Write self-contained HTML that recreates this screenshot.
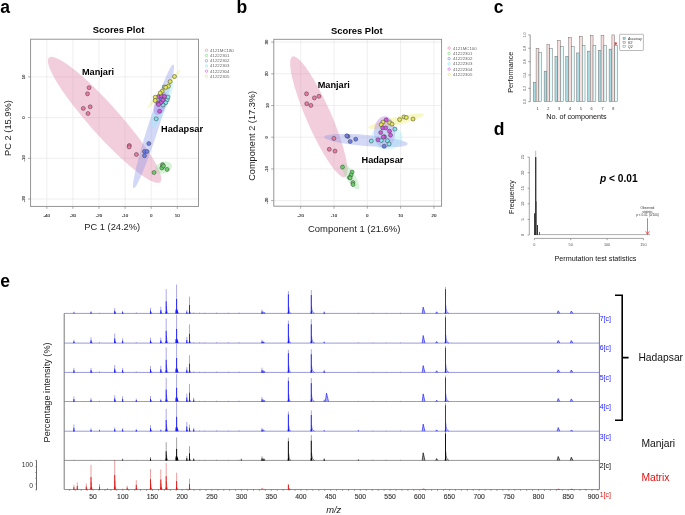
<!DOCTYPE html>
<html><head><meta charset="utf-8"><style>
html,body{margin:0;padding:0;background:#fff;}
body{width:685px;height:515px;overflow:hidden;}
svg{display:block;font-family:"Liberation Sans", sans-serif;-webkit-font-smoothing:antialiased;will-change:transform;transform:translateZ(0);}
</style></head><body>
<svg width="685" height="515" viewBox="0 0 685 515">
<rect width="685" height="515" fill="#fff"/>
<text x="0.3" y="13.2" font-family="Liberation Sans, sans-serif" font-size="17.5" text-anchor="start" font-weight="bold" fill="#000">a</text>
<text x="236.6" y="12.8" font-family="Liberation Sans, sans-serif" font-size="17.5" text-anchor="start" font-weight="bold" fill="#000">b</text>
<text x="493.8" y="12.8" font-family="Liberation Sans, sans-serif" font-size="17.5" text-anchor="start" font-weight="bold" fill="#000">c</text>
<text x="493.8" y="134.6" font-family="Liberation Sans, sans-serif" font-size="17.5" text-anchor="start" font-weight="bold" fill="#000">d</text>
<text x="0.3" y="286.8" font-family="Liberation Sans, sans-serif" font-size="17.5" text-anchor="start" font-weight="bold" fill="#000">e</text>
<g>
<line x1="46.8" y1="39.2" x2="46.8" y2="206.4" stroke="#e8e8e8" stroke-width="0.7"/>
<line x1="72.89999999999999" y1="39.2" x2="72.89999999999999" y2="206.4" stroke="#e8e8e8" stroke-width="0.7"/>
<line x1="99.0" y1="39.2" x2="99.0" y2="206.4" stroke="#e8e8e8" stroke-width="0.7"/>
<line x1="125.1" y1="39.2" x2="125.1" y2="206.4" stroke="#e8e8e8" stroke-width="0.7"/>
<line x1="151.2" y1="39.2" x2="151.2" y2="206.4" stroke="#e8e8e8" stroke-width="0.7"/>
<line x1="177.29999999999998" y1="39.2" x2="177.29999999999998" y2="206.4" stroke="#e8e8e8" stroke-width="0.7"/>
<line x1="30.6" y1="76.89999999999999" x2="198.5" y2="76.89999999999999" stroke="#e8e8e8" stroke-width="0.7"/>
<line x1="30.6" y1="117.6" x2="198.5" y2="117.6" stroke="#e8e8e8" stroke-width="0.7"/>
<line x1="30.6" y1="158.3" x2="198.5" y2="158.3" stroke="#e8e8e8" stroke-width="0.7"/>
<line x1="30.6" y1="199.0" x2="198.5" y2="199.0" stroke="#e8e8e8" stroke-width="0.7"/>
</g>
<ellipse cx="104.6" cy="119.9" rx="83.5" ry="15" transform="rotate(48.2 104.6 119.9)" fill="#dc7fa6" fill-opacity="0.38"/>
<ellipse cx="153.5" cy="126.4" rx="65" ry="5.4" transform="rotate(-72.2 153.5 126.4)" fill="#8090e8" fill-opacity="0.35"/>
<ellipse cx="163.6" cy="167.6" rx="8.8" ry="5.8" transform="rotate(-18 163.6 167.6)" fill="#90e090" fill-opacity="0.35"/>
<ellipse cx="162" cy="104" rx="26" ry="5.5" transform="rotate(-67.4 162 104)" fill="#9ae8f4" fill-opacity="0.4"/>
<ellipse cx="160.5" cy="103.5" rx="12" ry="6" transform="rotate(-70 160.5 103.5)" fill="#b878e8" fill-opacity="0.4"/>
<ellipse cx="164" cy="89" rx="25.6" ry="1.8" transform="rotate(-49.2 164 89)" fill="#eef07a" fill-opacity="0.5"/>
<circle cx="89.1" cy="87.7" r="2.0" fill="#ee78a2" stroke="#3a3a3a" stroke-width="0.5"/>
<circle cx="87.5" cy="93.8" r="2.0" fill="#ee78a2" stroke="#3a3a3a" stroke-width="0.5"/>
<circle cx="90.2" cy="106.8" r="2.0" fill="#ee78a2" stroke="#3a3a3a" stroke-width="0.5"/>
<circle cx="83.3" cy="108.4" r="2.0" fill="#ee78a2" stroke="#3a3a3a" stroke-width="0.5"/>
<circle cx="88" cy="113.5" r="2.0" fill="#ee78a2" stroke="#3a3a3a" stroke-width="0.5"/>
<circle cx="129.3" cy="145.5" r="2.0" fill="#ee78a2" stroke="#3a3a3a" stroke-width="0.5"/>
<circle cx="129.1" cy="146.9" r="2.0" fill="#ee78a2" stroke="#3a3a3a" stroke-width="0.5"/>
<circle cx="136.4" cy="154.5" r="2.0" fill="#ee78a2" stroke="#3a3a3a" stroke-width="0.5"/>
<circle cx="162.5" cy="164.6" r="2.0" fill="#68d268" stroke="#3a3a3a" stroke-width="0.5"/>
<circle cx="162.3" cy="167" r="2.0" fill="#68d268" stroke="#3a3a3a" stroke-width="0.5"/>
<circle cx="161.8" cy="168" r="2.0" fill="#68d268" stroke="#3a3a3a" stroke-width="0.5"/>
<circle cx="167.1" cy="169.4" r="2.0" fill="#68d268" stroke="#3a3a3a" stroke-width="0.5"/>
<circle cx="154" cy="172.5" r="2.0" fill="#68d268" stroke="#3a3a3a" stroke-width="0.5"/>
<circle cx="163.5" cy="166" r="2.0" fill="#68d268" stroke="#3a3a3a" stroke-width="0.5"/>
<circle cx="148.8" cy="143.6" r="2.0" fill="#7080e8" stroke="#3a3a3a" stroke-width="0.5"/>
<circle cx="144.5" cy="151.5" r="2.0" fill="#7080e8" stroke="#3a3a3a" stroke-width="0.5"/>
<circle cx="147" cy="151.5" r="2.0" fill="#7080e8" stroke="#3a3a3a" stroke-width="0.5"/>
<circle cx="144.5" cy="155.7" r="2.0" fill="#7080e8" stroke="#3a3a3a" stroke-width="0.5"/>
<circle cx="161" cy="99" r="2.0" fill="#7080e8" stroke="#3a3a3a" stroke-width="0.5"/>
<circle cx="164.3" cy="87" r="2.0" fill="#80e4ee" stroke="#3a3a3a" stroke-width="0.5"/>
<circle cx="167.2" cy="99.8" r="2.0" fill="#80e4ee" stroke="#3a3a3a" stroke-width="0.5"/>
<circle cx="165.7" cy="102.7" r="2.0" fill="#80e4ee" stroke="#3a3a3a" stroke-width="0.5"/>
<circle cx="156.2" cy="118.8" r="2.0" fill="#80e4ee" stroke="#3a3a3a" stroke-width="0.5"/>
<circle cx="168" cy="97" r="2.0" fill="#80e4ee" stroke="#3a3a3a" stroke-width="0.5"/>
<circle cx="163" cy="105" r="2.0" fill="#80e4ee" stroke="#3a3a3a" stroke-width="0.5"/>
<circle cx="158.5" cy="96.5" r="2.0" fill="#d458e6" stroke="#3a3a3a" stroke-width="0.5"/>
<circle cx="161.5" cy="96" r="2.0" fill="#d458e6" stroke="#3a3a3a" stroke-width="0.5"/>
<circle cx="164.5" cy="96.5" r="2.0" fill="#d458e6" stroke="#3a3a3a" stroke-width="0.5"/>
<circle cx="158" cy="103" r="2.0" fill="#d458e6" stroke="#3a3a3a" stroke-width="0.5"/>
<circle cx="161" cy="102.5" r="2.0" fill="#d458e6" stroke="#3a3a3a" stroke-width="0.5"/>
<circle cx="158.5" cy="104.5" r="2.0" fill="#d458e6" stroke="#3a3a3a" stroke-width="0.5"/>
<circle cx="159.6" cy="111.3" r="2.0" fill="#d458e6" stroke="#3a3a3a" stroke-width="0.5"/>
<circle cx="163" cy="100" r="2.0" fill="#d458e6" stroke="#3a3a3a" stroke-width="0.5"/>
<circle cx="174.5" cy="76.5" r="2.0" fill="#e6e658" stroke="#3a3a3a" stroke-width="0.5"/>
<circle cx="170.1" cy="81.6" r="2.0" fill="#e6e658" stroke="#3a3a3a" stroke-width="0.5"/>
<circle cx="168.4" cy="86.2" r="2.0" fill="#e6e658" stroke="#3a3a3a" stroke-width="0.5"/>
<circle cx="165.7" cy="87.4" r="2.0" fill="#e6e658" stroke="#3a3a3a" stroke-width="0.5"/>
<circle cx="162.1" cy="91.3" r="2.0" fill="#e6e658" stroke="#3a3a3a" stroke-width="0.5"/>
<circle cx="160.2" cy="93" r="2.0" fill="#e6e658" stroke="#3a3a3a" stroke-width="0.5"/>
<circle cx="155.2" cy="97.2" r="2.0" fill="#e6e658" stroke="#3a3a3a" stroke-width="0.5"/>
<circle cx="155.2" cy="100.5" r="2.0" fill="#e6e658" stroke="#3a3a3a" stroke-width="0.5"/>
<rect x="30.6" y="39.2" width="167.9" height="167.2" fill="none" stroke="#8a8a8a" stroke-width="0.9"/>
<line x1="46.8" y1="206.4" x2="46.8" y2="208.9" stroke="#8a8a8a" stroke-width="0.7"/>
<text x="46.8" y="216.9" font-family="Liberation Sans, sans-serif" font-size="4.4" text-anchor="middle" fill="#444" stroke="#444" stroke-width="0.18">-40</text>
<line x1="72.89999999999999" y1="206.4" x2="72.89999999999999" y2="208.9" stroke="#8a8a8a" stroke-width="0.7"/>
<text x="72.89999999999999" y="216.9" font-family="Liberation Sans, sans-serif" font-size="4.4" text-anchor="middle" fill="#444" stroke="#444" stroke-width="0.18">-30</text>
<line x1="99.0" y1="206.4" x2="99.0" y2="208.9" stroke="#8a8a8a" stroke-width="0.7"/>
<text x="99.0" y="216.9" font-family="Liberation Sans, sans-serif" font-size="4.4" text-anchor="middle" fill="#444" stroke="#444" stroke-width="0.18">-20</text>
<line x1="125.1" y1="206.4" x2="125.1" y2="208.9" stroke="#8a8a8a" stroke-width="0.7"/>
<text x="125.1" y="216.9" font-family="Liberation Sans, sans-serif" font-size="4.4" text-anchor="middle" fill="#444" stroke="#444" stroke-width="0.18">-10</text>
<line x1="151.2" y1="206.4" x2="151.2" y2="208.9" stroke="#8a8a8a" stroke-width="0.7"/>
<text x="151.2" y="216.9" font-family="Liberation Sans, sans-serif" font-size="4.4" text-anchor="middle" fill="#444" stroke="#444" stroke-width="0.18">0</text>
<line x1="177.29999999999998" y1="206.4" x2="177.29999999999998" y2="208.9" stroke="#8a8a8a" stroke-width="0.7"/>
<text x="177.29999999999998" y="216.9" font-family="Liberation Sans, sans-serif" font-size="4.4" text-anchor="middle" fill="#444" stroke="#444" stroke-width="0.18">10</text>
<line x1="27.900000000000002" y1="76.89999999999999" x2="30.6" y2="76.89999999999999" stroke="#8a8a8a" stroke-width="0.7"/>
<text x="25.0" y="76.89999999999999" font-family="Liberation Sans, sans-serif" font-size="4.4" text-anchor="middle" fill="#444" transform="rotate(-90 25.0 76.89999999999999)" stroke="#444" stroke-width="0.18">10</text>
<line x1="27.900000000000002" y1="117.6" x2="30.6" y2="117.6" stroke="#8a8a8a" stroke-width="0.7"/>
<text x="25.0" y="117.6" font-family="Liberation Sans, sans-serif" font-size="4.4" text-anchor="middle" fill="#444" transform="rotate(-90 25.0 117.6)" stroke="#444" stroke-width="0.18">0</text>
<line x1="27.900000000000002" y1="158.3" x2="30.6" y2="158.3" stroke="#8a8a8a" stroke-width="0.7"/>
<text x="25.0" y="158.3" font-family="Liberation Sans, sans-serif" font-size="4.4" text-anchor="middle" fill="#444" transform="rotate(-90 25.0 158.3)" stroke="#444" stroke-width="0.18">-10</text>
<line x1="27.900000000000002" y1="199.0" x2="30.6" y2="199.0" stroke="#8a8a8a" stroke-width="0.7"/>
<text x="25.0" y="199.0" font-family="Liberation Sans, sans-serif" font-size="4.4" text-anchor="middle" fill="#444" transform="rotate(-90 25.0 199.0)" stroke="#444" stroke-width="0.18">-20</text>
<text x="118.5" y="33.1" font-family="Liberation Sans, sans-serif" font-size="9.4" text-anchor="middle" font-weight="bold" fill="#000">Scores Plot</text>
<text x="84.3" y="229.8" font-family="Liberation Sans, sans-serif" font-size="9.3" text-anchor="start" fill="#222">PC 1 (24.2%)</text>
<text x="10.6" y="128" font-family="Liberation Sans, sans-serif" font-size="9.3" text-anchor="middle" fill="#222" transform="rotate(-90 10.6 128)">PC 2 (15.9%)</text>
<text x="81.9" y="74.8" font-family="Liberation Sans, sans-serif" font-size="9.2" text-anchor="start" font-weight="bold" fill="#000">Manjari</text>
<text x="161.1" y="132.1" font-family="Liberation Sans, sans-serif" font-size="9.2" text-anchor="start" font-weight="bold" fill="#000">Hadapsar</text>
<circle cx="206.5" cy="50.3" r="1.2" fill="none" stroke="#ee78a2" stroke-width="0.6"/>
<text x="210.1" y="51.8" font-family="Liberation Sans, sans-serif" font-size="4.35" text-anchor="start" fill="#666">4121MC180</text>
<circle cx="206.5" cy="55.519999999999996" r="1.2" fill="none" stroke="#68d268" stroke-width="0.6"/>
<text x="210.1" y="57.019999999999996" font-family="Liberation Sans, sans-serif" font-size="4.35" text-anchor="start" fill="#666">41222301</text>
<circle cx="206.5" cy="60.739999999999995" r="1.2" fill="none" stroke="#7080e8" stroke-width="0.6"/>
<text x="210.1" y="62.239999999999995" font-family="Liberation Sans, sans-serif" font-size="4.35" text-anchor="start" fill="#666">41222302</text>
<circle cx="206.5" cy="65.96" r="1.2" fill="none" stroke="#80e4ee" stroke-width="0.6"/>
<text x="210.1" y="67.46" font-family="Liberation Sans, sans-serif" font-size="4.35" text-anchor="start" fill="#666">41222303</text>
<circle cx="206.5" cy="71.17999999999999" r="1.2" fill="none" stroke="#d458e6" stroke-width="0.6"/>
<text x="210.1" y="72.67999999999999" font-family="Liberation Sans, sans-serif" font-size="4.35" text-anchor="start" fill="#666">41222304</text>
<circle cx="206.5" cy="76.39999999999999" r="1.2" fill="none" stroke="#e6e658" stroke-width="0.6"/>
<text x="210.1" y="77.89999999999999" font-family="Liberation Sans, sans-serif" font-size="4.35" text-anchor="start" fill="#666">41222305</text>
<line x1="300.70000000000005" y1="39.3" x2="300.70000000000005" y2="206.2" stroke="#e8e8e8" stroke-width="0.7"/>
<line x1="334.0" y1="39.3" x2="334.0" y2="206.2" stroke="#e8e8e8" stroke-width="0.7"/>
<line x1="367.3" y1="39.3" x2="367.3" y2="206.2" stroke="#e8e8e8" stroke-width="0.7"/>
<line x1="400.6" y1="39.3" x2="400.6" y2="206.2" stroke="#e8e8e8" stroke-width="0.7"/>
<line x1="433.9" y1="39.3" x2="433.9" y2="206.2" stroke="#e8e8e8" stroke-width="0.7"/>
<line x1="273.8" y1="42.099999999999994" x2="441.6" y2="42.099999999999994" stroke="#e8e8e8" stroke-width="0.7"/>
<line x1="273.8" y1="73.79999999999998" x2="441.6" y2="73.79999999999998" stroke="#e8e8e8" stroke-width="0.7"/>
<line x1="273.8" y1="105.49999999999999" x2="441.6" y2="105.49999999999999" stroke="#e8e8e8" stroke-width="0.7"/>
<line x1="273.8" y1="137.2" x2="441.6" y2="137.2" stroke="#e8e8e8" stroke-width="0.7"/>
<line x1="273.8" y1="168.89999999999998" x2="441.6" y2="168.89999999999998" stroke="#e8e8e8" stroke-width="0.7"/>
<line x1="273.8" y1="200.6" x2="441.6" y2="200.6" stroke="#e8e8e8" stroke-width="0.7"/>
<ellipse cx="318.8" cy="116.8" rx="65.8" ry="12.4" transform="rotate(66.4 318.8 116.8)" fill="#dc7fa6" fill-opacity="0.38"/>
<ellipse cx="366" cy="140.5" rx="42" ry="5.6" transform="rotate(4.8 366 140.5)" fill="#8090e8" fill-opacity="0.35"/>
<ellipse cx="350.5" cy="176.4" rx="15" ry="4.6" transform="rotate(58.8 350.5 176.4)" fill="#90e090" fill-opacity="0.35"/>
<ellipse cx="396" cy="121.2" rx="28.6" ry="4" transform="rotate(-13.4 396 121.2)" fill="#eef07a" fill-opacity="0.45"/>
<ellipse cx="384.6" cy="132.2" rx="10.6" ry="16" transform="rotate(0 384.6 132.2)" fill="#b878e8" fill-opacity="0.4"/>
<ellipse cx="386.8" cy="137.3" rx="15.7" ry="12.2" transform="rotate(0 386.8 137.3)" fill="#9ae8f4" fill-opacity="0.35"/>
<circle cx="306.5" cy="93.8" r="2.0" fill="#ee78a2" stroke="#3a3a3a" stroke-width="0.5"/>
<circle cx="314.4" cy="97.9" r="2.0" fill="#ee78a2" stroke="#3a3a3a" stroke-width="0.5"/>
<circle cx="318.9" cy="96.3" r="2.0" fill="#ee78a2" stroke="#3a3a3a" stroke-width="0.5"/>
<circle cx="306.7" cy="103.7" r="2.0" fill="#ee78a2" stroke="#3a3a3a" stroke-width="0.5"/>
<circle cx="310.9" cy="105.4" r="2.0" fill="#ee78a2" stroke="#3a3a3a" stroke-width="0.5"/>
<circle cx="333.9" cy="138.4" r="2.0" fill="#ee78a2" stroke="#3a3a3a" stroke-width="0.5"/>
<circle cx="329.3" cy="149.3" r="2.0" fill="#ee78a2" stroke="#3a3a3a" stroke-width="0.5"/>
<circle cx="335" cy="151.1" r="2.0" fill="#ee78a2" stroke="#3a3a3a" stroke-width="0.5"/>
<circle cx="342.5" cy="167.1" r="2.0" fill="#68d268" stroke="#3a3a3a" stroke-width="0.5"/>
<circle cx="352.1" cy="172.1" r="2.0" fill="#68d268" stroke="#3a3a3a" stroke-width="0.5"/>
<circle cx="351" cy="175" r="2.0" fill="#68d268" stroke="#3a3a3a" stroke-width="0.5"/>
<circle cx="349.5" cy="177.5" r="2.0" fill="#68d268" stroke="#3a3a3a" stroke-width="0.5"/>
<circle cx="350.2" cy="177.9" r="2.0" fill="#68d268" stroke="#3a3a3a" stroke-width="0.5"/>
<circle cx="352.9" cy="182.5" r="2.0" fill="#68d268" stroke="#3a3a3a" stroke-width="0.5"/>
<circle cx="353" cy="184.5" r="2.0" fill="#68d268" stroke="#3a3a3a" stroke-width="0.5"/>
<circle cx="347.9" cy="136.4" r="2.0" fill="#7080e8" stroke="#3a3a3a" stroke-width="0.5"/>
<circle cx="350.2" cy="141.5" r="2.0" fill="#7080e8" stroke="#3a3a3a" stroke-width="0.5"/>
<circle cx="355.7" cy="139.2" r="2.0" fill="#7080e8" stroke="#3a3a3a" stroke-width="0.5"/>
<circle cx="384.2" cy="146.3" r="2.0" fill="#7080e8" stroke="#3a3a3a" stroke-width="0.5"/>
<circle cx="384.4" cy="136.7" r="2.0" fill="#7080e8" stroke="#3a3a3a" stroke-width="0.5"/>
<circle cx="346.8" cy="135.8" r="2.0" fill="#7080e8" stroke="#3a3a3a" stroke-width="0.5"/>
<circle cx="399.6" cy="119.6" r="2.0" fill="#e6e658" stroke="#3a3a3a" stroke-width="0.5"/>
<circle cx="404" cy="116.9" r="2.0" fill="#e6e658" stroke="#3a3a3a" stroke-width="0.5"/>
<circle cx="406.3" cy="117.5" r="2.0" fill="#e6e658" stroke="#3a3a3a" stroke-width="0.5"/>
<circle cx="413" cy="119" r="2.0" fill="#e6e658" stroke="#3a3a3a" stroke-width="0.5"/>
<circle cx="383" cy="122.1" r="2.0" fill="#e6e658" stroke="#3a3a3a" stroke-width="0.5"/>
<circle cx="381.2" cy="124.7" r="2.0" fill="#e6e658" stroke="#3a3a3a" stroke-width="0.5"/>
<circle cx="389.7" cy="122.7" r="2.0" fill="#e6e658" stroke="#3a3a3a" stroke-width="0.5"/>
<circle cx="392" cy="124.1" r="2.0" fill="#e6e658" stroke="#3a3a3a" stroke-width="0.5"/>
<circle cx="386.2" cy="119.8" r="2.0" fill="#d458e6" stroke="#3a3a3a" stroke-width="0.5"/>
<circle cx="382.7" cy="127.9" r="2.0" fill="#d458e6" stroke="#3a3a3a" stroke-width="0.5"/>
<circle cx="385.8" cy="127.9" r="2.0" fill="#d458e6" stroke="#3a3a3a" stroke-width="0.5"/>
<circle cx="380.7" cy="132.6" r="2.0" fill="#d458e6" stroke="#3a3a3a" stroke-width="0.5"/>
<circle cx="389.5" cy="131.2" r="2.0" fill="#d458e6" stroke="#3a3a3a" stroke-width="0.5"/>
<circle cx="390.5" cy="135.2" r="2.0" fill="#d458e6" stroke="#3a3a3a" stroke-width="0.5"/>
<circle cx="383.3" cy="137" r="2.0" fill="#d458e6" stroke="#3a3a3a" stroke-width="0.5"/>
<circle cx="378" cy="139.8" r="2.0" fill="#d458e6" stroke="#3a3a3a" stroke-width="0.5"/>
<circle cx="394.9" cy="129.1" r="2.0" fill="#80e4ee" stroke="#3a3a3a" stroke-width="0.5"/>
<circle cx="371.3" cy="141" r="2.0" fill="#80e4ee" stroke="#3a3a3a" stroke-width="0.5"/>
<circle cx="381.3" cy="140.5" r="2.0" fill="#80e4ee" stroke="#3a3a3a" stroke-width="0.5"/>
<circle cx="387.4" cy="140.7" r="2.0" fill="#80e4ee" stroke="#3a3a3a" stroke-width="0.5"/>
<circle cx="389.1" cy="144" r="2.0" fill="#80e4ee" stroke="#3a3a3a" stroke-width="0.5"/>
<rect x="273.8" y="39.3" width="167.8" height="166.89999999999998" fill="none" stroke="#8a8a8a" stroke-width="0.9"/>
<line x1="300.70000000000005" y1="206.2" x2="300.70000000000005" y2="208.7" stroke="#8a8a8a" stroke-width="0.7"/>
<text x="300.70000000000005" y="216.9" font-family="Liberation Sans, sans-serif" font-size="4.4" text-anchor="middle" fill="#444" stroke="#444" stroke-width="0.18">-20</text>
<line x1="334.0" y1="206.2" x2="334.0" y2="208.7" stroke="#8a8a8a" stroke-width="0.7"/>
<text x="334.0" y="216.9" font-family="Liberation Sans, sans-serif" font-size="4.4" text-anchor="middle" fill="#444" stroke="#444" stroke-width="0.18">-10</text>
<line x1="367.3" y1="206.2" x2="367.3" y2="208.7" stroke="#8a8a8a" stroke-width="0.7"/>
<text x="367.3" y="216.9" font-family="Liberation Sans, sans-serif" font-size="4.4" text-anchor="middle" fill="#444" stroke="#444" stroke-width="0.18">0</text>
<line x1="400.6" y1="206.2" x2="400.6" y2="208.7" stroke="#8a8a8a" stroke-width="0.7"/>
<text x="400.6" y="216.9" font-family="Liberation Sans, sans-serif" font-size="4.4" text-anchor="middle" fill="#444" stroke="#444" stroke-width="0.18">10</text>
<line x1="433.9" y1="206.2" x2="433.9" y2="208.7" stroke="#8a8a8a" stroke-width="0.7"/>
<text x="433.9" y="216.9" font-family="Liberation Sans, sans-serif" font-size="4.4" text-anchor="middle" fill="#444" stroke="#444" stroke-width="0.18">20</text>
<line x1="271.1" y1="42.099999999999994" x2="273.8" y2="42.099999999999994" stroke="#8a8a8a" stroke-width="0.7"/>
<text x="268.5" y="42.099999999999994" font-family="Liberation Sans, sans-serif" font-size="4.4" text-anchor="middle" fill="#444" transform="rotate(-90 268.5 42.099999999999994)" stroke="#444" stroke-width="0.18">30</text>
<line x1="271.1" y1="73.79999999999998" x2="273.8" y2="73.79999999999998" stroke="#8a8a8a" stroke-width="0.7"/>
<text x="268.5" y="73.79999999999998" font-family="Liberation Sans, sans-serif" font-size="4.4" text-anchor="middle" fill="#444" transform="rotate(-90 268.5 73.79999999999998)" stroke="#444" stroke-width="0.18">20</text>
<line x1="271.1" y1="105.49999999999999" x2="273.8" y2="105.49999999999999" stroke="#8a8a8a" stroke-width="0.7"/>
<text x="268.5" y="105.49999999999999" font-family="Liberation Sans, sans-serif" font-size="4.4" text-anchor="middle" fill="#444" transform="rotate(-90 268.5 105.49999999999999)" stroke="#444" stroke-width="0.18">10</text>
<line x1="271.1" y1="137.2" x2="273.8" y2="137.2" stroke="#8a8a8a" stroke-width="0.7"/>
<text x="268.5" y="137.2" font-family="Liberation Sans, sans-serif" font-size="4.4" text-anchor="middle" fill="#444" transform="rotate(-90 268.5 137.2)" stroke="#444" stroke-width="0.18">0</text>
<line x1="271.1" y1="168.89999999999998" x2="273.8" y2="168.89999999999998" stroke="#8a8a8a" stroke-width="0.7"/>
<text x="268.5" y="168.89999999999998" font-family="Liberation Sans, sans-serif" font-size="4.4" text-anchor="middle" fill="#444" transform="rotate(-90 268.5 168.89999999999998)" stroke="#444" stroke-width="0.18">-10</text>
<line x1="271.1" y1="200.6" x2="273.8" y2="200.6" stroke="#8a8a8a" stroke-width="0.7"/>
<text x="268.5" y="200.6" font-family="Liberation Sans, sans-serif" font-size="4.4" text-anchor="middle" fill="#444" transform="rotate(-90 268.5 200.6)" stroke="#444" stroke-width="0.18">-20</text>
<text x="356.8" y="34.3" font-family="Liberation Sans, sans-serif" font-size="9.4" text-anchor="middle" font-weight="bold" fill="#000">Scores Plot</text>
<text x="354.2" y="232.4" font-family="Liberation Sans, sans-serif" font-size="9.45" text-anchor="middle" fill="#222">Component 1 (21.6%)</text>
<text x="254.8" y="135.9" font-family="Liberation Sans, sans-serif" font-size="9.2" text-anchor="middle" fill="#222" transform="rotate(-90 254.8 135.9)">Component 2 (17.3%)</text>
<text x="317.7" y="87.8" font-family="Liberation Sans, sans-serif" font-size="9.2" text-anchor="start" font-weight="bold" fill="#000">Manjari</text>
<text x="361.5" y="162.9" font-family="Liberation Sans, sans-serif" font-size="9.2" text-anchor="start" font-weight="bold" fill="#000">Hadapsar</text>
<circle cx="449.1" cy="48.1" r="1.2" fill="none" stroke="#ee78a2" stroke-width="0.6"/>
<text x="453" y="49.6" font-family="Liberation Sans, sans-serif" font-size="4.35" text-anchor="start" fill="#666">4121MC100</text>
<circle cx="449.1" cy="53.35" r="1.2" fill="none" stroke="#68d268" stroke-width="0.6"/>
<text x="453" y="54.85" font-family="Liberation Sans, sans-serif" font-size="4.35" text-anchor="start" fill="#666">41222301</text>
<circle cx="449.1" cy="58.6" r="1.2" fill="none" stroke="#7080e8" stroke-width="0.6"/>
<text x="453" y="60.1" font-family="Liberation Sans, sans-serif" font-size="4.35" text-anchor="start" fill="#666">41222302</text>
<circle cx="449.1" cy="63.85" r="1.2" fill="none" stroke="#80e4ee" stroke-width="0.6"/>
<text x="453" y="65.35" font-family="Liberation Sans, sans-serif" font-size="4.35" text-anchor="start" fill="#666">41222303</text>
<circle cx="449.1" cy="69.1" r="1.2" fill="none" stroke="#d458e6" stroke-width="0.6"/>
<text x="453" y="70.6" font-family="Liberation Sans, sans-serif" font-size="4.35" text-anchor="start" fill="#666">41222304</text>
<circle cx="449.1" cy="74.35" r="1.2" fill="none" stroke="#e6e658" stroke-width="0.6"/>
<text x="453" y="75.85" font-family="Liberation Sans, sans-serif" font-size="4.35" text-anchor="start" fill="#666">41222305</text>
<line x1="530.2" y1="101.7" x2="530.2" y2="34.900000000000006" stroke="#555" stroke-width="0.6"/>
<line x1="528.4" y1="101.7" x2="530.2" y2="101.7" stroke="#555" stroke-width="0.6"/>
<text x="526.3" y="101.7" font-family="Liberation Sans, sans-serif" font-size="3.6" text-anchor="middle" fill="#555" transform="rotate(-90 526.3 101.7)">0.0</text>
<line x1="528.4" y1="88.34" x2="530.2" y2="88.34" stroke="#555" stroke-width="0.6"/>
<text x="526.3" y="88.34" font-family="Liberation Sans, sans-serif" font-size="3.6" text-anchor="middle" fill="#555" transform="rotate(-90 526.3 88.34)">0.2</text>
<line x1="528.4" y1="74.98" x2="530.2" y2="74.98" stroke="#555" stroke-width="0.6"/>
<text x="526.3" y="74.98" font-family="Liberation Sans, sans-serif" font-size="3.6" text-anchor="middle" fill="#555" transform="rotate(-90 526.3 74.98)">0.4</text>
<line x1="528.4" y1="61.620000000000005" x2="530.2" y2="61.620000000000005" stroke="#555" stroke-width="0.6"/>
<text x="526.3" y="61.620000000000005" font-family="Liberation Sans, sans-serif" font-size="3.6" text-anchor="middle" fill="#555" transform="rotate(-90 526.3 61.620000000000005)">0.6</text>
<line x1="528.4" y1="48.260000000000005" x2="530.2" y2="48.260000000000005" stroke="#555" stroke-width="0.6"/>
<text x="526.3" y="48.260000000000005" font-family="Liberation Sans, sans-serif" font-size="3.6" text-anchor="middle" fill="#555" transform="rotate(-90 526.3 48.260000000000005)">0.8</text>
<line x1="528.4" y1="34.900000000000006" x2="530.2" y2="34.900000000000006" stroke="#555" stroke-width="0.6"/>
<text x="526.3" y="34.900000000000006" font-family="Liberation Sans, sans-serif" font-size="3.6" text-anchor="middle" fill="#555" transform="rotate(-90 526.3 34.900000000000006)">1.0</text>
<rect x="533.30" y="82.33" width="2.8" height="19.37" fill="#a9dbe3" stroke="#666" stroke-width="0.45"/>
<rect x="536.10" y="48.26" width="2.8" height="53.44" fill="#f7dedd" stroke="#666" stroke-width="0.45"/>
<rect x="538.90" y="52.27" width="2.8" height="49.43" fill="#e4fcfc" stroke="#666" stroke-width="0.45"/>
<text x="537.5" y="109.8" font-family="Liberation Sans, sans-serif" font-size="3.8" text-anchor="middle" fill="#333">1</text>
<rect x="544.13" y="71.17" width="2.8" height="30.53" fill="#a9dbe3" stroke="#666" stroke-width="0.45"/>
<rect x="546.93" y="44.25" width="2.8" height="57.45" fill="#f7dedd" stroke="#666" stroke-width="0.45"/>
<rect x="549.73" y="48.26" width="2.8" height="53.44" fill="#e4fcfc" stroke="#666" stroke-width="0.45"/>
<text x="548.33" y="109.8" font-family="Liberation Sans, sans-serif" font-size="3.8" text-anchor="middle" fill="#333">2</text>
<rect x="554.96" y="56.28" width="2.8" height="45.42" fill="#a9dbe3" stroke="#666" stroke-width="0.45"/>
<rect x="557.76" y="40.24" width="2.8" height="61.46" fill="#f7dedd" stroke="#666" stroke-width="0.45"/>
<rect x="560.56" y="46.26" width="2.8" height="55.44" fill="#e4fcfc" stroke="#666" stroke-width="0.45"/>
<text x="559.16" y="109.8" font-family="Liberation Sans, sans-serif" font-size="3.8" text-anchor="middle" fill="#333">3</text>
<rect x="565.79" y="56.28" width="2.8" height="45.42" fill="#a9dbe3" stroke="#666" stroke-width="0.45"/>
<rect x="568.59" y="37.24" width="2.8" height="64.46" fill="#f7dedd" stroke="#666" stroke-width="0.45"/>
<rect x="571.39" y="46.26" width="2.8" height="55.44" fill="#e4fcfc" stroke="#666" stroke-width="0.45"/>
<text x="569.99" y="109.8" font-family="Liberation Sans, sans-serif" font-size="3.8" text-anchor="middle" fill="#333">4</text>
<rect x="576.62" y="52.94" width="2.8" height="48.76" fill="#a9dbe3" stroke="#666" stroke-width="0.45"/>
<rect x="579.42" y="36.24" width="2.8" height="65.46" fill="#f7dedd" stroke="#666" stroke-width="0.45"/>
<rect x="582.22" y="45.25" width="2.8" height="56.45" fill="#e4fcfc" stroke="#666" stroke-width="0.45"/>
<text x="580.82" y="109.8" font-family="Liberation Sans, sans-serif" font-size="3.8" text-anchor="middle" fill="#333">5</text>
<rect x="587.45" y="51.13" width="2.8" height="50.57" fill="#a9dbe3" stroke="#666" stroke-width="0.45"/>
<rect x="590.25" y="35.23" width="2.8" height="66.47" fill="#f7dedd" stroke="#666" stroke-width="0.45"/>
<rect x="593.05" y="45.25" width="2.8" height="56.45" fill="#e4fcfc" stroke="#666" stroke-width="0.45"/>
<text x="591.65" y="109.8" font-family="Liberation Sans, sans-serif" font-size="3.8" text-anchor="middle" fill="#333">6</text>
<rect x="598.28" y="50.26" width="2.8" height="51.44" fill="#a9dbe3" stroke="#666" stroke-width="0.45"/>
<rect x="601.08" y="35.23" width="2.8" height="66.47" fill="#f7dedd" stroke="#666" stroke-width="0.45"/>
<rect x="603.88" y="45.25" width="2.8" height="56.45" fill="#e4fcfc" stroke="#666" stroke-width="0.45"/>
<text x="602.48" y="109.8" font-family="Liberation Sans, sans-serif" font-size="3.8" text-anchor="middle" fill="#333">7</text>
<rect x="609.11" y="49.13" width="2.8" height="52.57" fill="#a9dbe3" stroke="#666" stroke-width="0.45"/>
<rect x="611.91" y="34.90" width="2.8" height="66.80" fill="#f7dedd" stroke="#666" stroke-width="0.45"/>
<rect x="614.71" y="45.25" width="2.8" height="56.45" fill="#e4fcfc" stroke="#666" stroke-width="0.45"/>
<text x="613.31" y="109.8" font-family="Liberation Sans, sans-serif" font-size="3.8" text-anchor="middle" fill="#333">8</text>
<circle cx="615.7" cy="43.6" r="1.3" fill="#f04040"/>
<rect x="619.6" y="34.3" width="23.8" height="16.2" fill="#fff" stroke="#777" stroke-width="0.5" rx="0.6"/>
<rect x="623" y="37.4" width="2.3" height="2.2" fill="#a9dbe3" stroke="#666" stroke-width="0.35"/>
<text x="628.1" y="39.7" font-family="Liberation Sans, sans-serif" font-size="3.4" text-anchor="start" font-style="italic" fill="#333">Accuracy</text>
<rect x="623" y="41.4" width="2.3" height="2.2" fill="#f7dedd" stroke="#666" stroke-width="0.35"/>
<text x="628.1" y="43.7" font-family="Liberation Sans, sans-serif" font-size="3.4" text-anchor="start" font-style="italic" fill="#333">R2</text>
<rect x="623" y="45.4" width="2.3" height="2.2" fill="#e4fcfc" stroke="#666" stroke-width="0.35"/>
<text x="628.1" y="47.7" font-family="Liberation Sans, sans-serif" font-size="3.4" text-anchor="start" font-style="italic" fill="#333">Q2</text>
<text x="513.1999999999999" y="72.2" font-family="Liberation Sans, sans-serif" font-size="7.15" text-anchor="middle" fill="#111" transform="rotate(-90 513.1999999999999 72.2)">Performance</text>
<text x="576.4" y="118.7" font-family="Liberation Sans, sans-serif" font-size="7.2" text-anchor="middle" fill="#111">No. of components</text>
<line x1="529.3" y1="235.0" x2="529.3" y2="157.1" stroke="#666" stroke-width="0.6"/>
<line x1="527.6" y1="235.0" x2="529.3" y2="235.0" stroke="#666" stroke-width="0.6"/>
<text x="524.4" y="235.0" font-family="Liberation Sans, sans-serif" font-size="3.8" text-anchor="middle" fill="#444" transform="rotate(-90 524.4 235.0)">0</text>
<line x1="527.6" y1="219.42" x2="529.3" y2="219.42" stroke="#666" stroke-width="0.6"/>
<text x="524.4" y="219.42" font-family="Liberation Sans, sans-serif" font-size="3.8" text-anchor="middle" fill="#444" transform="rotate(-90 524.4 219.42)">5</text>
<line x1="527.6" y1="203.84" x2="529.3" y2="203.84" stroke="#666" stroke-width="0.6"/>
<text x="524.4" y="203.84" font-family="Liberation Sans, sans-serif" font-size="3.8" text-anchor="middle" fill="#444" transform="rotate(-90 524.4 203.84)">10</text>
<line x1="527.6" y1="188.26" x2="529.3" y2="188.26" stroke="#666" stroke-width="0.6"/>
<text x="524.4" y="188.26" font-family="Liberation Sans, sans-serif" font-size="3.8" text-anchor="middle" fill="#444" transform="rotate(-90 524.4 188.26)">15</text>
<line x1="527.6" y1="172.68" x2="529.3" y2="172.68" stroke="#666" stroke-width="0.6"/>
<text x="524.4" y="172.68" font-family="Liberation Sans, sans-serif" font-size="3.8" text-anchor="middle" fill="#444" transform="rotate(-90 524.4 172.68)">20</text>
<line x1="527.6" y1="157.1" x2="529.3" y2="157.1" stroke="#666" stroke-width="0.6"/>
<text x="524.4" y="157.1" font-family="Liberation Sans, sans-serif" font-size="3.8" text-anchor="middle" fill="#444" transform="rotate(-90 524.4 157.1)">25</text>
<line x1="534.4" y1="238.4" x2="643.39" y2="238.4" stroke="#666" stroke-width="0.6"/>
<line x1="534.4" y1="238.4" x2="534.4" y2="240.2" stroke="#666" stroke-width="0.6"/>
<text x="534.4" y="246.3" font-family="Liberation Sans, sans-serif" font-size="3.8" text-anchor="middle" fill="#555">0</text>
<line x1="570.73" y1="238.4" x2="570.73" y2="240.2" stroke="#666" stroke-width="0.6"/>
<text x="570.73" y="246.3" font-family="Liberation Sans, sans-serif" font-size="3.8" text-anchor="middle" fill="#555">50</text>
<line x1="607.06" y1="238.4" x2="607.06" y2="240.2" stroke="#666" stroke-width="0.6"/>
<text x="607.06" y="246.3" font-family="Liberation Sans, sans-serif" font-size="3.8" text-anchor="middle" fill="#555">100</text>
<line x1="643.39" y1="238.4" x2="643.39" y2="240.2" stroke="#666" stroke-width="0.6"/>
<text x="643.39" y="246.3" font-family="Liberation Sans, sans-serif" font-size="3.8" text-anchor="middle" fill="#555">150</text>
<line x1="533.9" y1="234.6" x2="650" y2="234.6" stroke="#999" stroke-width="0.8"/>
<line x1="535.7" y1="235" x2="535.7" y2="150.7" stroke="#aaa" stroke-width="0.8"/>
<rect x="534.1" y="213.19" width="1.10" height="21.81" fill="#2a2a2a"/>
<rect x="535.2" y="157.10" width="1.10" height="77.90" fill="#1a1a1a"/>
<rect x="536.3" y="201.35" width="0.70" height="33.65" fill="#555"/>
<rect x="537.0" y="225.03" width="1.00" height="9.97" fill="#333"/>
<rect x="539.0" y="231.88" width="0.8" height="3.12" fill="#444"/>
<text x="600" y="182.1" font-family="Liberation Sans, sans-serif" font-size="10.2" text-anchor="start" font-weight="bold" fill="#000"><tspan font-style="italic">p</tspan> &lt; 0.01</text>
<line x1="647.5" y1="218.2" x2="647.5" y2="234.2" stroke="#e83030" stroke-width="0.7"/>
<path d="M645.6 231.2 L647.5 234.6 L649.4 231.2" fill="none" stroke="#e83030" stroke-width="0.7"/>
<text x="647.5" y="208.6" font-family="Liberation Sans, sans-serif" font-size="3.2" text-anchor="middle" fill="#333">Observed</text>
<text x="647.5" y="212.5" font-family="Liberation Sans, sans-serif" font-size="3.2" text-anchor="middle" fill="#333">statistic</text>
<text x="647.5" y="216.4" font-family="Liberation Sans, sans-serif" font-size="3.2" text-anchor="middle" fill="#333">p &lt; 0.01 (0/100)</text>
<text x="513.8" y="197" font-family="Liberation Sans, sans-serif" font-size="7.15" text-anchor="middle" fill="#111" transform="rotate(-90 513.8 197)">Frequency</text>
<text x="595.4" y="261.2" font-family="Liberation Sans, sans-serif" font-size="7.2" text-anchor="middle" fill="#111">Permutation test statistics</text>
<line x1="64.2" y1="313.4" x2="64.2" y2="489.5" stroke="#555" stroke-width="0.8"/>
<line x1="599.4" y1="313.4" x2="599.4" y2="489.5" stroke="#555" stroke-width="0.8"/>
<line x1="64.2" y1="313.4" x2="599.4" y2="313.4" stroke="#6e6ec8" stroke-width="0.7"/>
<path d="M73.9 313.4V311.6 M91.0 313.4V311.0 M99.5 313.4V312.8 M114.7 313.4V308.1 M122.6 313.4V310.8 M136.3 313.4V312.4 M150.5 313.4V307.9 M160.8 313.4V306.8 M166.2 313.4V289.2 M176.6 313.4V284.5 M186.8 313.4V310.0 M189.5 313.4V296.6 M193.7 313.4V312.4 M199.5 313.4V312.7 M204.7 313.4V312.8 M216.6 313.4V312.6 M228.4 313.4V312.7 M239.0 313.4V312.6 M262.0 313.4V309.5 M263.2 313.4V311.4 M264.6 313.4V312.0 M288.4 313.4V291.0 M311.3 313.4V290.0 M324.2 313.4V311.3 M358.4 313.4V312.8 M372.9 313.4V312.8 M386.0 313.4V312.9 M400.5 313.4V312.8 M445.5 313.4V287.1" stroke="#3c3cc8" stroke-width="0.8" stroke-opacity="0.55" fill="none"/>
<path d="M422.2 313.4L423.2 307.1L424.9 313.4 M435.8 313.4L436.6 311.8L437.8 313.4 M557.2 313.4L558.2 310.8L559.8 313.4 M570.3 313.4L571.3 311.0L572.9 313.4" stroke="#1a1aff" stroke-width="0.75" stroke-opacity="0.85" fill="#1a1aff" fill-opacity="0.35" stroke-linejoin="round"/>
<path d="M73.9 313.4V312.5 M91.0 313.4V312.2 M114.7 313.4V310.8 M122.6 313.4V312.1 M150.5 313.4V310.6 M160.8 313.4V310.1 M166.2 313.4V301.3 M176.6 313.4V298.9 M186.8 313.4V311.7 M189.5 313.4V305.0 M262.0 313.4V311.4 M263.2 313.4V312.4 M264.6 313.4V312.7 M288.4 313.4V294.4 M311.3 313.4V295.1 M324.2 313.4V312.3 M445.5 313.4V289.2" stroke="#1a1aff" stroke-width="0.9" fill="none"/>
<path d="M114.9 311.8Q115.2 312.8 116.2 313.4 M150.7 311.8Q151.0 312.8 152.1 313.4 M161.0 311.4Q161.3 312.8 162.2 313.4 M166.4 306.1Q166.7 312.8 167.8 313.4 M288.6 306.7Q288.9 312.8 290.6 313.4 M311.5 306.4Q311.8 312.8 314.5 313.4 M445.7 305.5Q446.0 312.8 448.9 313.4" stroke="#1a1aff" stroke-width="0.7" stroke-opacity="0.8" fill="none"/>
<path d="M90.1 313.4L90.7 313.0L91.4 313.0L92.2 313.4Z M113.8 313.4L114.4 312.6L115.1 312.6L115.9 313.4Z M121.7 313.4L122.3 313.0L123.0 313.0L123.8 313.4Z M149.6 313.4L150.2 312.6L150.9 312.6L151.7 313.4Z M159.9 313.4L160.5 312.4L161.2 312.4L162.0 313.4Z M165.3 313.4L165.9 310.9L166.6 310.9L167.4 313.4Z M175.3 313.4L175.6 309.4L177.4 309.4L178.6 313.4Z M185.9 313.4L186.5 312.9L187.2 312.9L188.0 313.4Z M188.6 313.4L189.2 310.9L189.9 310.9L190.7 313.4Z M261.1 313.4L261.7 312.8L262.4 312.8L263.2 313.4Z M287.5 313.4L288.1 310.9L288.8 310.9L289.6 313.4Z M310.4 313.4L311.0 310.9L311.7 310.9L312.5 313.4Z M323.3 313.4L323.9 313.1L324.6 313.1L325.4 313.4Z M444.6 313.4L445.2 310.9L445.9 310.9L446.7 313.4Z" fill="#1a1aff" stroke="none"/>
<text x="599.7" y="320.7" font-family="Liberation Sans, sans-serif" font-size="6.9" text-anchor="start" fill="#1a1aff">7[c]</text>
<line x1="64.2" y1="343.1" x2="599.4" y2="343.1" stroke="#6e6ec8" stroke-width="0.7"/>
<path d="M73.9 343.1V339.7 M91.0 343.1V337.3 M99.5 343.1V342.1 M114.7 343.1V333.6 M122.6 343.1V338.4 M136.3 343.1V342.1 M150.5 343.1V337.8 M160.8 343.1V337.6 M166.2 343.1V318.6 M176.6 343.1V314.7 M186.8 343.1V336.8 M189.5 343.1V324.4 M193.7 343.1V342.1 M199.5 343.1V342.4 M204.7 343.1V342.5 M216.6 343.1V342.3 M228.4 343.1V342.4 M239.0 343.1V342.3 M262.0 343.1V339.7 M263.2 343.1V340.9 M264.6 343.1V341.9 M288.4 343.1V320.5 M311.3 343.1V319.1 M324.2 343.1V341.3 M358.4 343.1V342.5 M372.9 343.1V342.5 M386.0 343.1V342.6 M400.5 343.1V342.5 M445.5 343.1V315.2" stroke="#3c3cc8" stroke-width="0.8" stroke-opacity="0.55" fill="none"/>
<path d="M422.2 343.1L423.2 335.5L424.9 343.1 M435.8 343.1L436.6 341.5L437.8 343.1 M557.2 343.1L558.2 340.5L559.8 343.1 M570.3 343.1L571.3 340.5L572.9 343.1" stroke="#1a1aff" stroke-width="0.75" stroke-opacity="0.85" fill="#1a1aff" fill-opacity="0.35" stroke-linejoin="round"/>
<path d="M73.9 343.1V341.4 M91.0 343.1V340.2 M114.7 343.1V338.4 M122.6 343.1V340.8 M150.5 343.1V340.5 M160.8 343.1V340.4 M166.2 343.1V330.9 M176.6 343.1V328.9 M186.8 343.1V340.0 M189.5 343.1V333.8 M262.0 343.1V341.4 M263.2 343.1V342.0 M288.4 343.1V323.9 M311.3 343.1V324.4 M324.2 343.1V342.2 M445.5 343.1V317.4" stroke="#1a1aff" stroke-width="0.9" fill="none"/>
<path d="M91.2 341.4Q91.5 342.5 92.4 343.1 M114.9 340.2Q115.2 342.5 116.2 343.1 M150.7 341.5Q151.0 342.5 152.1 343.1 M161.0 341.5Q161.3 342.5 162.2 343.1 M166.4 335.8Q166.7 342.5 167.8 343.1 M288.6 336.3Q288.9 342.5 290.6 343.1 M311.5 335.9Q311.8 342.5 314.5 343.1 M445.7 334.7Q446.0 342.5 448.9 343.1" stroke="#1a1aff" stroke-width="0.7" stroke-opacity="0.8" fill="none"/>
<path d="M73.0 343.1L73.6 342.6L74.3 342.6L75.1 343.1Z M90.1 343.1L90.7 342.2L91.4 342.2L92.2 343.1Z M113.8 343.1L114.4 341.7L115.1 341.7L115.9 343.1Z M121.7 343.1L122.3 342.4L123.0 342.4L123.8 343.1Z M149.6 343.1L150.2 342.3L150.9 342.3L151.7 343.1Z M159.9 343.1L160.5 342.3L161.2 342.3L162.0 343.1Z M165.3 343.1L165.9 340.6L166.6 340.6L167.4 343.1Z M175.3 343.1L175.6 339.1L177.4 339.1L178.6 343.1Z M185.9 343.1L186.5 342.2L187.2 342.2L188.0 343.1Z M188.6 343.1L189.2 340.6L189.9 340.6L190.7 343.1Z M261.1 343.1L261.7 342.6L262.4 342.6L263.2 343.1Z M262.3 343.1L262.9 342.8L263.6 342.8L264.4 343.1Z M287.5 343.1L288.1 340.6L288.8 340.6L289.6 343.1Z M310.4 343.1L311.0 340.6L311.7 340.6L312.5 343.1Z M444.6 343.1L445.2 340.6L445.9 340.6L446.7 343.1Z" fill="#1a1aff" stroke="none"/>
<text x="599.7" y="350.40000000000003" font-family="Liberation Sans, sans-serif" font-size="6.9" text-anchor="start" fill="#1a1aff">6[c]</text>
<line x1="64.2" y1="372.4" x2="599.4" y2="372.4" stroke="#6e6ec8" stroke-width="0.7"/>
<path d="M73.9 372.4V367.9 M91.0 372.4V367.9 M99.5 372.4V371.4 M114.7 372.4V365.0 M122.6 372.4V367.9 M136.3 372.4V371.4 M150.5 372.4V366.1 M160.8 372.4V365.8 M166.2 372.4V347.4 M176.6 372.4V343.7 M186.8 372.4V367.1 M189.5 372.4V355.3 M193.7 372.4V371.4 M199.5 372.4V371.7 M204.7 372.4V371.8 M216.6 372.4V371.6 M228.4 372.4V371.7 M239.0 372.4V371.6 M262.0 372.4V367.7 M263.2 372.4V369.9 M264.6 372.4V370.9 M288.4 372.4V349.8 M311.3 372.4V349.2 M324.2 372.4V369.8 M358.4 372.4V371.8 M372.9 372.4V371.8 M386.0 372.4V371.9 M400.5 372.4V371.8 M445.5 372.4V345.8" stroke="#3c3cc8" stroke-width="0.8" stroke-opacity="0.55" fill="none"/>
<path d="M422.2 372.4L423.2 365.6L424.9 372.4 M435.8 372.4L436.6 370.8L437.8 372.4 M557.2 372.4L558.2 369.8L559.8 372.4 M570.3 372.4L571.3 370.0L572.9 372.4" stroke="#1a1aff" stroke-width="0.75" stroke-opacity="0.85" fill="#1a1aff" fill-opacity="0.35" stroke-linejoin="round"/>
<path d="M73.9 372.4V370.1 M91.0 372.4V370.1 M114.7 372.4V368.7 M122.6 372.4V370.1 M150.5 372.4V369.2 M160.8 372.4V369.1 M166.2 372.4V359.9 M176.6 372.4V358.0 M186.8 372.4V369.8 M189.5 372.4V363.8 M262.0 372.4V370.0 M263.2 372.4V371.1 M264.6 372.4V371.6 M288.4 372.4V353.2 M311.3 372.4V354.3 M324.2 372.4V371.1 M445.5 372.4V347.9" stroke="#1a1aff" stroke-width="0.9" fill="none"/>
<path d="M91.2 371.0Q91.5 371.8 92.4 372.4 M114.9 370.2Q115.2 371.8 116.2 372.4 M150.7 370.5Q151.0 371.8 152.1 372.4 M161.0 370.4Q161.3 371.8 162.2 372.4 M166.4 364.9Q166.7 371.8 167.8 372.4 M288.6 365.6Q288.9 371.8 290.6 372.4 M311.5 365.4Q311.8 371.8 314.5 372.4 M445.7 364.4Q446.0 371.8 448.9 372.4" stroke="#1a1aff" stroke-width="0.7" stroke-opacity="0.8" fill="none"/>
<path d="M73.0 372.4L73.6 371.7L74.3 371.7L75.1 372.4Z M90.1 372.4L90.7 371.7L91.4 371.7L92.2 372.4Z M113.8 372.4L114.4 371.3L115.1 371.3L115.9 372.4Z M121.7 372.4L122.3 371.7L123.0 371.7L123.8 372.4Z M149.6 372.4L150.2 371.5L150.9 371.5L151.7 372.4Z M159.9 372.4L160.5 371.4L161.2 371.4L162.0 372.4Z M165.3 372.4L165.9 369.9L166.6 369.9L167.4 372.4Z M175.3 372.4L175.6 368.4L177.4 368.4L178.6 372.4Z M185.9 372.4L186.5 371.6L187.2 371.6L188.0 372.4Z M188.6 372.4L189.2 369.9L189.9 369.9L190.7 372.4Z M261.1 372.4L261.7 371.7L262.4 371.7L263.2 372.4Z M262.3 372.4L262.9 372.0L263.6 372.0L264.4 372.4Z M287.5 372.4L288.1 369.9L288.8 369.9L289.6 372.4Z M310.4 372.4L311.0 369.9L311.7 369.9L312.5 372.4Z M323.3 372.4L323.9 372.0L324.6 372.0L325.4 372.4Z M444.6 372.4L445.2 369.9L445.9 369.9L446.7 372.4Z" fill="#1a1aff" stroke="none"/>
<text x="599.7" y="379.7" font-family="Liberation Sans, sans-serif" font-size="6.9" text-anchor="start" fill="#1a1aff">5[c]</text>
<line x1="64.2" y1="401.5" x2="599.4" y2="401.5" stroke="#6e6ec8" stroke-width="0.7"/>
<path d="M73.9 401.5V396.5 M91.0 401.5V398.1 M99.5 401.5V400.7 M114.7 401.5V395.2 M122.6 401.5V396.2 M136.3 401.5V398.6 M150.5 401.5V396.0 M160.8 401.5V398.6 M166.2 401.5V377.8 M176.6 401.5V374.1 M186.8 401.5V393.6 M189.5 401.5V383.9 M193.7 401.5V397.6 M199.5 401.5V400.8 M204.7 401.5V400.9 M216.6 401.5V400.7 M228.4 401.5V400.8 M239.0 401.5V400.7 M262.0 401.5V397.0 M263.2 401.5V399.1 M264.6 401.5V399.9 M288.4 401.5V377.3 M311.3 401.5V378.1 M324.2 401.5V399.5 M358.4 401.5V400.9 M372.9 401.5V400.9 M386.0 401.5V401.0 M400.5 401.5V400.9 M445.5 401.5V375.5" stroke="#3c3cc8" stroke-width="0.8" stroke-opacity="0.55" fill="none"/>
<path d="M325.3 401.5L326.5 393.1L328.5 401.5 M422.2 401.5L423.2 393.9L424.9 401.5 M435.8 401.5L436.6 400.2L437.8 401.5 M557.2 401.5L558.2 398.5L559.8 401.5 M570.3 401.5L571.3 398.9L572.9 401.5" stroke="#1a1aff" stroke-width="0.75" stroke-opacity="0.85" fill="#1a1aff" fill-opacity="0.35" stroke-linejoin="round"/>
<path d="M73.9 401.5V399.0 M91.0 401.5V399.8 M114.7 401.5V398.4 M122.6 401.5V398.9 M136.3 401.5V400.1 M150.5 401.5V398.8 M160.8 401.5V400.1 M166.2 401.5V389.6 M176.6 401.5V387.8 M186.8 401.5V397.6 M189.5 401.5V392.7 M193.7 401.5V399.6 M262.0 401.5V399.2 M263.2 401.5V400.3 M264.6 401.5V400.7 M288.4 401.5V380.9 M311.3 401.5V383.2 M324.2 401.5V400.5 M445.5 401.5V377.6" stroke="#1a1aff" stroke-width="0.9" fill="none"/>
<path d="M114.9 399.6Q115.2 400.9 116.2 401.5 M150.7 399.9Q151.0 400.9 152.1 401.5 M166.4 394.4Q166.7 400.9 167.8 401.5 M288.6 394.2Q288.9 400.9 290.6 401.5 M311.5 394.5Q311.8 400.9 314.5 401.5 M445.7 393.7Q446.0 400.9 448.9 401.5" stroke="#1a1aff" stroke-width="0.7" stroke-opacity="0.8" fill="none"/>
<path d="M73.0 401.5L73.6 400.8L74.3 400.8L75.1 401.5Z M90.1 401.5L90.7 401.0L91.4 401.0L92.2 401.5Z M113.8 401.5L114.4 400.6L115.1 400.6L115.9 401.5Z M121.7 401.5L122.3 400.7L123.0 400.7L123.8 401.5Z M135.4 401.5L136.0 401.1L136.7 401.1L137.5 401.5Z M149.6 401.5L150.2 400.7L150.9 400.7L151.7 401.5Z M159.9 401.5L160.5 401.1L161.2 401.1L162.0 401.5Z M165.3 401.5L165.9 399.0L166.6 399.0L167.4 401.5Z M175.3 401.5L175.6 397.5L177.4 397.5L178.6 401.5Z M185.9 401.5L186.5 400.3L187.2 400.3L188.0 401.5Z M188.6 401.5L189.2 399.0L189.9 399.0L190.7 401.5Z M192.8 401.5L193.4 400.9L194.1 400.9L194.9 401.5Z M261.1 401.5L261.7 400.8L262.4 400.8L263.2 401.5Z M262.3 401.5L262.9 401.1L263.6 401.1L264.4 401.5Z M287.5 401.5L288.1 399.0L288.8 399.0L289.6 401.5Z M310.4 401.5L311.0 399.0L311.7 399.0L312.5 401.5Z M444.6 401.5L445.2 399.0L445.9 399.0L446.7 401.5Z" fill="#1a1aff" stroke="none"/>
<text x="599.7" y="408.8" font-family="Liberation Sans, sans-serif" font-size="6.9" text-anchor="start" fill="#1a1aff">4[c]</text>
<line x1="64.2" y1="431.2" x2="599.4" y2="431.2" stroke="#6e6ec8" stroke-width="0.7"/>
<path d="M73.9 431.2V424.4 M91.0 431.2V428.3 M99.5 431.2V429.6 M114.7 431.2V427.3 M122.6 431.2V428.0 M136.3 431.2V428.8 M150.5 431.2V425.2 M160.8 431.2V429.4 M166.2 431.2V408.8 M176.6 431.2V402.5 M186.8 431.2V422.0 M189.5 431.2V424.6 M193.7 431.2V427.8 M199.5 431.2V430.5 M204.7 431.2V430.6 M216.6 431.2V430.4 M228.4 431.2V430.5 M239.0 431.2V430.4 M262.0 431.2V427.8 M263.2 431.2V429.2 M264.6 431.2V430.0 M288.4 431.2V411.5 M311.3 431.2V410.4 M324.2 431.2V429.9 M358.4 431.2V429.9 M372.9 431.2V430.6 M386.0 431.2V430.7 M400.5 431.2V430.6 M445.5 431.2V403.0" stroke="#3c3cc8" stroke-width="0.8" stroke-opacity="0.55" fill="none"/>
<path d="M422.2 431.2L423.2 424.1L424.9 431.2 M435.8 431.2L436.6 429.9L437.8 431.2 M557.2 431.2L558.2 427.5L559.8 431.2 M570.3 431.2L571.3 430.2L572.9 431.2" stroke="#1a1aff" stroke-width="0.75" stroke-opacity="0.85" fill="#1a1aff" fill-opacity="0.35" stroke-linejoin="round"/>
<path d="M73.9 431.2V427.8 M91.0 431.2V429.8 M99.5 431.2V430.4 M114.7 431.2V429.2 M122.6 431.2V429.6 M136.3 431.2V430.0 M150.5 431.2V428.2 M160.8 431.2V430.3 M166.2 431.2V420.0 M176.6 431.2V416.8 M186.8 431.2V426.6 M189.5 431.2V427.9 M193.7 431.2V429.5 M262.0 431.2V429.5 M263.2 431.2V430.2 M288.4 431.2V414.5 M311.3 431.2V415.0 M324.2 431.2V430.6 M358.4 431.2V430.6 M445.5 431.2V405.3" stroke="#1a1aff" stroke-width="0.9" fill="none"/>
<path d="M150.7 429.4Q151.0 430.6 152.1 431.2 M166.4 424.5Q166.7 430.6 167.8 431.2 M288.6 425.3Q288.9 430.6 290.6 431.2 M311.5 425.0Q311.8 430.6 314.5 431.2 M445.7 422.7Q446.0 430.6 448.9 431.2" stroke="#1a1aff" stroke-width="0.7" stroke-opacity="0.8" fill="none"/>
<path d="M73.0 431.2L73.6 430.2L74.3 430.2L75.1 431.2Z M90.1 431.2L90.7 430.8L91.4 430.8L92.2 431.2Z M113.8 431.2L114.4 430.6L115.1 430.6L115.9 431.2Z M121.7 431.2L122.3 430.7L123.0 430.7L123.8 431.2Z M135.4 431.2L136.0 430.8L136.7 430.8L137.5 431.2Z M149.6 431.2L150.2 430.3L150.9 430.3L151.7 431.2Z M165.3 431.2L165.9 428.7L166.6 428.7L167.4 431.2Z M175.3 431.2L175.6 427.2L177.4 427.2L178.6 431.2Z M185.9 431.2L186.5 429.8L187.2 429.8L188.0 431.2Z M188.6 431.2L189.2 430.2L189.9 430.2L190.7 431.2Z M192.8 431.2L193.4 430.7L194.1 430.7L194.9 431.2Z M261.1 431.2L261.7 430.7L262.4 430.7L263.2 431.2Z M287.5 431.2L288.1 428.7L288.8 428.7L289.6 431.2Z M310.4 431.2L311.0 428.7L311.7 428.7L312.5 431.2Z M444.6 431.2L445.2 428.7L445.9 428.7L446.7 431.2Z" fill="#1a1aff" stroke="none"/>
<text x="599.7" y="438.5" font-family="Liberation Sans, sans-serif" font-size="6.9" text-anchor="start" fill="#1a1aff">3[c]</text>
<line x1="64.2" y1="460.4" x2="599.4" y2="460.4" stroke="#6a6a6a" stroke-width="0.7"/>
<path d="M73.9 460.4V459.9 M91.0 460.4V460.1 M99.5 460.4V460.1 M114.7 460.4V459.9 M122.6 460.4V458.6 M136.3 460.4V460.1 M150.5 460.4V457.0 M160.8 460.4V459.9 M166.2 460.4V442.2 M176.6 460.4V437.5 M186.8 460.4V455.9 M189.5 460.4V446.2 M193.7 460.4V458.0 M199.5 460.4V459.9 M204.7 460.4V459.9 M216.6 460.4V459.8 M228.4 460.4V459.9 M239.0 460.4V459.8 M241.3 460.4V458.6 M262.0 460.4V456.2 M263.2 460.4V457.8 M264.6 460.4V458.6 M288.4 460.4V437.8 M311.3 460.4V435.1 M324.2 460.4V458.0 M358.4 460.4V459.1 M372.9 460.4V459.6 M386.0 460.4V459.8 M400.5 460.4V459.8 M445.5 460.4V431.2" stroke="#303030" stroke-width="0.8" stroke-opacity="0.55" fill="none"/>
<path d="M422.2 460.4L423.2 452.8L424.9 460.4 M435.8 460.4L436.6 458.6L437.8 460.4 M557.2 460.4L558.2 456.5L559.8 460.4 M570.3 460.4L571.3 457.2L572.9 460.4" stroke="#000000" stroke-width="0.75" stroke-opacity="0.85" fill="#000000" fill-opacity="0.35" stroke-linejoin="round"/>
<path d="M122.6 460.4V459.5 M150.5 460.4V458.7 M166.2 460.4V451.3 M176.6 460.4V448.9 M186.8 460.4V458.1 M189.5 460.4V453.3 M193.7 460.4V459.2 M241.3 460.4V459.5 M262.0 460.4V458.3 M263.2 460.4V459.1 M264.6 460.4V459.5 M288.4 460.4V441.2 M311.3 460.4V440.7 M324.2 460.4V459.2 M358.4 460.4V459.8 M445.5 460.4V433.5" stroke="#000000" stroke-width="0.9" fill="none"/>
<path d="M166.4 454.9Q166.7 459.8 167.8 460.4 M288.6 453.6Q288.9 459.8 290.6 460.4 M311.5 452.8Q311.8 459.8 314.5 460.4 M445.7 451.6Q446.0 459.8 448.9 460.4" stroke="#000000" stroke-width="0.7" stroke-opacity="0.8" fill="none"/>
<path d="M149.6 460.4L150.2 459.9L150.9 459.9L151.7 460.4Z M165.3 460.4L165.9 457.9L166.6 457.9L167.4 460.4Z M175.3 460.4L175.6 456.4L177.4 456.4L178.6 460.4Z M185.9 460.4L186.5 459.7L187.2 459.7L188.0 460.4Z M188.6 460.4L189.2 458.3L189.9 458.3L190.7 460.4Z M192.8 460.4L193.4 460.0L194.1 460.0L194.9 460.4Z M261.1 460.4L261.7 459.8L262.4 459.8L263.2 460.4Z M262.3 460.4L262.9 460.0L263.6 460.0L264.4 460.4Z M287.5 460.4L288.1 457.9L288.8 457.9L289.6 460.4Z M310.4 460.4L311.0 457.9L311.7 457.9L312.5 460.4Z M323.3 460.4L323.9 460.0L324.6 460.0L325.4 460.4Z M444.6 460.4L445.2 457.9L445.9 457.9L446.7 460.4Z" fill="#000000" stroke="none"/>
<text x="599.7" y="467.7" font-family="Liberation Sans, sans-serif" font-size="6.9" text-anchor="start" fill="#000000">2[c]</text>
<line x1="64.2" y1="489.5" x2="599.4" y2="489.5" stroke="#a84858" stroke-width="0.7"/>
<path d="M73.9 489.5V484.8 M77.3 489.5V482.5 M86.3 489.5V483.5 M91.0 489.5V464.8 M99.5 489.5V484.1 M107.4 489.5V488.2 M114.7 489.5V460.3 M122.6 489.5V488.7 M127.2 489.5V485.7 M136.3 489.5V480.2 M150.5 489.5V469.0 M160.8 489.5V469.5 M166.2 489.5V462.9 M176.6 489.5V472.7 M186.8 489.5V488.7 M189.5 489.5V478.7 M199.5 489.5V489.1 M262.0 489.5V487.9 M263.2 489.5V488.5 M264.6 489.5V488.9 M288.4 489.5V484.0 M311.3 489.5V489.0 M529.0 489.5V488.9 M585.0 489.5V488.9 M445.5 489.5V488.7" stroke="#d02828" stroke-width="0.8" stroke-opacity="0.55" fill="none"/>
<path d="M422.2 489.5L423.2 489.0L424.9 489.5 M557.2 489.5L558.2 489.2L559.8 489.5 M570.3 489.5L571.3 489.2L572.9 489.5" stroke="#e01010" stroke-width="0.75" stroke-opacity="0.85" fill="#e01010" fill-opacity="0.35" stroke-linejoin="round"/>
<path d="M73.9 489.5V487.1 M77.3 489.5V486.0 M86.3 489.5V486.5 M91.0 489.5V477.1 M99.5 489.5V486.8 M107.4 489.5V488.9 M114.7 489.5V474.9 M127.2 489.5V487.6 M136.3 489.5V484.9 M150.5 489.5V479.2 M160.8 489.5V479.5 M166.2 489.5V476.2 M176.6 489.5V481.1 M189.5 489.5V484.1 M262.0 489.5V488.7 M288.4 489.5V484.8" stroke="#e01010" stroke-width="0.9" fill="none"/>
<path d="M91.2 482.1Q91.5 488.9 92.4 489.5 M114.9 480.7Q115.2 488.9 116.2 489.5 M150.7 483.4Q151.0 488.9 152.1 489.5 M161.0 483.5Q161.3 488.9 162.2 489.5 M166.4 481.5Q166.7 488.9 167.8 489.5 M288.6 487.9Q288.9 488.9 290.6 489.5" stroke="#e01010" stroke-width="0.7" stroke-opacity="0.8" fill="none"/>
<path d="M73.0 489.5L73.6 488.8L74.3 488.8L75.1 489.5Z M76.4 489.5L77.0 488.4L77.7 488.4L78.5 489.5Z M85.4 489.5L86.0 488.6L86.7 488.6L87.5 489.5Z M90.1 489.5L90.7 487.0L91.4 487.0L92.2 489.5Z M98.6 489.5L99.2 488.7L99.9 488.7L100.7 489.5Z M113.8 489.5L114.4 487.0L115.1 487.0L115.9 489.5Z M126.3 489.5L126.9 488.9L127.6 488.9L128.4 489.5Z M135.4 489.5L136.0 488.1L136.7 488.1L137.5 489.5Z M149.6 489.5L150.2 487.0L150.9 487.0L151.7 489.5Z M159.9 489.5L160.5 487.0L161.2 487.0L162.0 489.5Z M165.3 489.5L165.9 487.0L166.6 487.0L167.4 489.5Z M175.7 489.5L176.3 487.0L177.0 487.0L177.8 489.5Z M188.6 489.5L189.2 487.9L189.9 487.9L190.7 489.5Z M287.5 489.5L288.1 488.7L288.8 488.7L289.6 489.5Z" fill="#e01010" stroke="none"/>
<text x="599.7" y="496.8" font-family="Liberation Sans, sans-serif" font-size="6.9" text-anchor="start" fill="#e01010">1[c]</text>
<line x1="69.339" y1="489.5" x2="69.339" y2="490.9" stroke="#444" stroke-width="0.5"/>
<line x1="75.27799999999999" y1="489.5" x2="75.27799999999999" y2="490.9" stroke="#444" stroke-width="0.5"/>
<line x1="81.217" y1="489.5" x2="81.217" y2="490.9" stroke="#444" stroke-width="0.5"/>
<line x1="87.156" y1="489.5" x2="87.156" y2="490.9" stroke="#444" stroke-width="0.5"/>
<line x1="93.095" y1="489.5" x2="93.095" y2="490.9" stroke="#444" stroke-width="0.5"/>
<line x1="99.03399999999999" y1="489.5" x2="99.03399999999999" y2="490.9" stroke="#444" stroke-width="0.5"/>
<line x1="104.973" y1="489.5" x2="104.973" y2="490.9" stroke="#444" stroke-width="0.5"/>
<line x1="110.912" y1="489.5" x2="110.912" y2="490.9" stroke="#444" stroke-width="0.5"/>
<line x1="116.851" y1="489.5" x2="116.851" y2="490.9" stroke="#444" stroke-width="0.5"/>
<line x1="122.78999999999999" y1="489.5" x2="122.78999999999999" y2="490.9" stroke="#444" stroke-width="0.5"/>
<line x1="128.72899999999998" y1="489.5" x2="128.72899999999998" y2="490.9" stroke="#444" stroke-width="0.5"/>
<line x1="134.668" y1="489.5" x2="134.668" y2="490.9" stroke="#444" stroke-width="0.5"/>
<line x1="140.607" y1="489.5" x2="140.607" y2="490.9" stroke="#444" stroke-width="0.5"/>
<line x1="146.546" y1="489.5" x2="146.546" y2="490.9" stroke="#444" stroke-width="0.5"/>
<line x1="152.48499999999999" y1="489.5" x2="152.48499999999999" y2="490.9" stroke="#444" stroke-width="0.5"/>
<line x1="158.424" y1="489.5" x2="158.424" y2="490.9" stroke="#444" stroke-width="0.5"/>
<line x1="164.363" y1="489.5" x2="164.363" y2="490.9" stroke="#444" stroke-width="0.5"/>
<line x1="170.302" y1="489.5" x2="170.302" y2="490.9" stroke="#444" stroke-width="0.5"/>
<line x1="176.24099999999999" y1="489.5" x2="176.24099999999999" y2="490.9" stroke="#444" stroke-width="0.5"/>
<line x1="182.18" y1="489.5" x2="182.18" y2="490.9" stroke="#444" stroke-width="0.5"/>
<line x1="188.119" y1="489.5" x2="188.119" y2="490.9" stroke="#444" stroke-width="0.5"/>
<line x1="194.058" y1="489.5" x2="194.058" y2="490.9" stroke="#444" stroke-width="0.5"/>
<line x1="199.997" y1="489.5" x2="199.997" y2="490.9" stroke="#444" stroke-width="0.5"/>
<line x1="205.936" y1="489.5" x2="205.936" y2="490.9" stroke="#444" stroke-width="0.5"/>
<line x1="211.875" y1="489.5" x2="211.875" y2="490.9" stroke="#444" stroke-width="0.5"/>
<line x1="217.814" y1="489.5" x2="217.814" y2="490.9" stroke="#444" stroke-width="0.5"/>
<line x1="223.75300000000001" y1="489.5" x2="223.75300000000001" y2="490.9" stroke="#444" stroke-width="0.5"/>
<line x1="229.692" y1="489.5" x2="229.692" y2="490.9" stroke="#444" stroke-width="0.5"/>
<line x1="235.631" y1="489.5" x2="235.631" y2="490.9" stroke="#444" stroke-width="0.5"/>
<line x1="241.57" y1="489.5" x2="241.57" y2="490.9" stroke="#444" stroke-width="0.5"/>
<line x1="247.50900000000001" y1="489.5" x2="247.50900000000001" y2="490.9" stroke="#444" stroke-width="0.5"/>
<line x1="253.448" y1="489.5" x2="253.448" y2="490.9" stroke="#444" stroke-width="0.5"/>
<line x1="259.387" y1="489.5" x2="259.387" y2="490.9" stroke="#444" stroke-width="0.5"/>
<line x1="265.32599999999996" y1="489.5" x2="265.32599999999996" y2="490.9" stroke="#444" stroke-width="0.5"/>
<line x1="271.265" y1="489.5" x2="271.265" y2="490.9" stroke="#444" stroke-width="0.5"/>
<line x1="277.204" y1="489.5" x2="277.204" y2="490.9" stroke="#444" stroke-width="0.5"/>
<line x1="283.143" y1="489.5" x2="283.143" y2="490.9" stroke="#444" stroke-width="0.5"/>
<line x1="289.082" y1="489.5" x2="289.082" y2="490.9" stroke="#444" stroke-width="0.5"/>
<line x1="295.02099999999996" y1="489.5" x2="295.02099999999996" y2="490.9" stroke="#444" stroke-width="0.5"/>
<line x1="300.96" y1="489.5" x2="300.96" y2="490.9" stroke="#444" stroke-width="0.5"/>
<line x1="306.899" y1="489.5" x2="306.899" y2="490.9" stroke="#444" stroke-width="0.5"/>
<line x1="312.83799999999997" y1="489.5" x2="312.83799999999997" y2="490.9" stroke="#444" stroke-width="0.5"/>
<line x1="318.777" y1="489.5" x2="318.777" y2="490.9" stroke="#444" stroke-width="0.5"/>
<line x1="324.71599999999995" y1="489.5" x2="324.71599999999995" y2="490.9" stroke="#444" stroke-width="0.5"/>
<line x1="330.655" y1="489.5" x2="330.655" y2="490.9" stroke="#444" stroke-width="0.5"/>
<line x1="336.594" y1="489.5" x2="336.594" y2="490.9" stroke="#444" stroke-width="0.5"/>
<line x1="342.53299999999996" y1="489.5" x2="342.53299999999996" y2="490.9" stroke="#444" stroke-width="0.5"/>
<line x1="348.472" y1="489.5" x2="348.472" y2="490.9" stroke="#444" stroke-width="0.5"/>
<line x1="354.41099999999994" y1="489.5" x2="354.41099999999994" y2="490.9" stroke="#444" stroke-width="0.5"/>
<line x1="360.34999999999997" y1="489.5" x2="360.34999999999997" y2="490.9" stroke="#444" stroke-width="0.5"/>
<line x1="366.289" y1="489.5" x2="366.289" y2="490.9" stroke="#444" stroke-width="0.5"/>
<line x1="372.22799999999995" y1="489.5" x2="372.22799999999995" y2="490.9" stroke="#444" stroke-width="0.5"/>
<line x1="378.167" y1="489.5" x2="378.167" y2="490.9" stroke="#444" stroke-width="0.5"/>
<line x1="384.106" y1="489.5" x2="384.106" y2="490.9" stroke="#444" stroke-width="0.5"/>
<line x1="390.04499999999996" y1="489.5" x2="390.04499999999996" y2="490.9" stroke="#444" stroke-width="0.5"/>
<line x1="395.984" y1="489.5" x2="395.984" y2="490.9" stroke="#444" stroke-width="0.5"/>
<line x1="401.92299999999994" y1="489.5" x2="401.92299999999994" y2="490.9" stroke="#444" stroke-width="0.5"/>
<line x1="407.86199999999997" y1="489.5" x2="407.86199999999997" y2="490.9" stroke="#444" stroke-width="0.5"/>
<line x1="413.801" y1="489.5" x2="413.801" y2="490.9" stroke="#444" stroke-width="0.5"/>
<line x1="419.73999999999995" y1="489.5" x2="419.73999999999995" y2="490.9" stroke="#444" stroke-width="0.5"/>
<line x1="425.679" y1="489.5" x2="425.679" y2="490.9" stroke="#444" stroke-width="0.5"/>
<line x1="431.618" y1="489.5" x2="431.618" y2="490.9" stroke="#444" stroke-width="0.5"/>
<line x1="437.55699999999996" y1="489.5" x2="437.55699999999996" y2="490.9" stroke="#444" stroke-width="0.5"/>
<line x1="443.496" y1="489.5" x2="443.496" y2="490.9" stroke="#444" stroke-width="0.5"/>
<line x1="449.43499999999995" y1="489.5" x2="449.43499999999995" y2="490.9" stroke="#444" stroke-width="0.5"/>
<line x1="455.37399999999997" y1="489.5" x2="455.37399999999997" y2="490.9" stroke="#444" stroke-width="0.5"/>
<line x1="461.313" y1="489.5" x2="461.313" y2="490.9" stroke="#444" stroke-width="0.5"/>
<line x1="467.25199999999995" y1="489.5" x2="467.25199999999995" y2="490.9" stroke="#444" stroke-width="0.5"/>
<line x1="473.191" y1="489.5" x2="473.191" y2="490.9" stroke="#444" stroke-width="0.5"/>
<line x1="479.12999999999994" y1="489.5" x2="479.12999999999994" y2="490.9" stroke="#444" stroke-width="0.5"/>
<line x1="485.06899999999996" y1="489.5" x2="485.06899999999996" y2="490.9" stroke="#444" stroke-width="0.5"/>
<line x1="491.008" y1="489.5" x2="491.008" y2="490.9" stroke="#444" stroke-width="0.5"/>
<line x1="496.94699999999995" y1="489.5" x2="496.94699999999995" y2="490.9" stroke="#444" stroke-width="0.5"/>
<line x1="502.88599999999997" y1="489.5" x2="502.88599999999997" y2="490.9" stroke="#444" stroke-width="0.5"/>
<line x1="508.825" y1="489.5" x2="508.825" y2="490.9" stroke="#444" stroke-width="0.5"/>
<line x1="514.764" y1="489.5" x2="514.764" y2="490.9" stroke="#444" stroke-width="0.5"/>
<line x1="520.703" y1="489.5" x2="520.703" y2="490.9" stroke="#444" stroke-width="0.5"/>
<line x1="526.6419999999999" y1="489.5" x2="526.6419999999999" y2="490.9" stroke="#444" stroke-width="0.5"/>
<line x1="532.581" y1="489.5" x2="532.581" y2="490.9" stroke="#444" stroke-width="0.5"/>
<line x1="538.52" y1="489.5" x2="538.52" y2="490.9" stroke="#444" stroke-width="0.5"/>
<line x1="544.459" y1="489.5" x2="544.459" y2="490.9" stroke="#444" stroke-width="0.5"/>
<line x1="550.398" y1="489.5" x2="550.398" y2="490.9" stroke="#444" stroke-width="0.5"/>
<line x1="556.337" y1="489.5" x2="556.337" y2="490.9" stroke="#444" stroke-width="0.5"/>
<line x1="562.276" y1="489.5" x2="562.276" y2="490.9" stroke="#444" stroke-width="0.5"/>
<line x1="568.215" y1="489.5" x2="568.215" y2="490.9" stroke="#444" stroke-width="0.5"/>
<line x1="574.154" y1="489.5" x2="574.154" y2="490.9" stroke="#444" stroke-width="0.5"/>
<line x1="580.093" y1="489.5" x2="580.093" y2="490.9" stroke="#444" stroke-width="0.5"/>
<line x1="586.0319999999999" y1="489.5" x2="586.0319999999999" y2="490.9" stroke="#444" stroke-width="0.5"/>
<line x1="591.971" y1="489.5" x2="591.971" y2="490.9" stroke="#444" stroke-width="0.5"/>
<line x1="597.91" y1="489.5" x2="597.91" y2="490.9" stroke="#444" stroke-width="0.5"/>
<text x="93.095" y="499.0" font-family="Liberation Sans, sans-serif" font-size="6.8" text-anchor="middle" fill="#333" stroke="#333" stroke-width="0.12">50</text>
<text x="122.78999999999999" y="499.0" font-family="Liberation Sans, sans-serif" font-size="6.8" text-anchor="middle" fill="#333" stroke="#333" stroke-width="0.12">100</text>
<text x="152.48499999999999" y="499.0" font-family="Liberation Sans, sans-serif" font-size="6.8" text-anchor="middle" fill="#333" stroke="#333" stroke-width="0.12">150</text>
<text x="182.18" y="499.0" font-family="Liberation Sans, sans-serif" font-size="6.8" text-anchor="middle" fill="#333" stroke="#333" stroke-width="0.12">200</text>
<text x="211.875" y="499.0" font-family="Liberation Sans, sans-serif" font-size="6.8" text-anchor="middle" fill="#333" stroke="#333" stroke-width="0.12">250</text>
<text x="241.57" y="499.0" font-family="Liberation Sans, sans-serif" font-size="6.8" text-anchor="middle" fill="#333" stroke="#333" stroke-width="0.12">300</text>
<text x="271.265" y="499.0" font-family="Liberation Sans, sans-serif" font-size="6.8" text-anchor="middle" fill="#333" stroke="#333" stroke-width="0.12">350</text>
<text x="300.96" y="499.0" font-family="Liberation Sans, sans-serif" font-size="6.8" text-anchor="middle" fill="#333" stroke="#333" stroke-width="0.12">400</text>
<text x="330.655" y="499.0" font-family="Liberation Sans, sans-serif" font-size="6.8" text-anchor="middle" fill="#333" stroke="#333" stroke-width="0.12">450</text>
<text x="360.34999999999997" y="499.0" font-family="Liberation Sans, sans-serif" font-size="6.8" text-anchor="middle" fill="#333" stroke="#333" stroke-width="0.12">500</text>
<text x="390.04499999999996" y="499.0" font-family="Liberation Sans, sans-serif" font-size="6.8" text-anchor="middle" fill="#333" stroke="#333" stroke-width="0.12">550</text>
<text x="419.73999999999995" y="499.0" font-family="Liberation Sans, sans-serif" font-size="6.8" text-anchor="middle" fill="#333" stroke="#333" stroke-width="0.12">600</text>
<text x="449.43499999999995" y="499.0" font-family="Liberation Sans, sans-serif" font-size="6.8" text-anchor="middle" fill="#333" stroke="#333" stroke-width="0.12">650</text>
<text x="479.12999999999994" y="499.0" font-family="Liberation Sans, sans-serif" font-size="6.8" text-anchor="middle" fill="#333" stroke="#333" stroke-width="0.12">700</text>
<text x="508.825" y="499.0" font-family="Liberation Sans, sans-serif" font-size="6.8" text-anchor="middle" fill="#333" stroke="#333" stroke-width="0.12">750</text>
<text x="538.52" y="499.0" font-family="Liberation Sans, sans-serif" font-size="6.8" text-anchor="middle" fill="#333" stroke="#333" stroke-width="0.12">800</text>
<text x="568.215" y="499.0" font-family="Liberation Sans, sans-serif" font-size="6.8" text-anchor="middle" fill="#333" stroke="#333" stroke-width="0.12">850</text>
<text x="593.3" y="499.0" font-family="Liberation Sans, sans-serif" font-size="6.8" text-anchor="middle" fill="#333" stroke="#333" stroke-width="0.12">900</text>
<text x="333.7" y="512.8" font-family="Liberation Sans, sans-serif" font-size="9.4" text-anchor="middle" font-style="italic" fill="#222">m/z</text>
<text x="50.4" y="392.4" font-family="Liberation Sans, sans-serif" font-size="9.2" text-anchor="middle" fill="#222" transform="rotate(-90 50.4 392.4)">Percentage intensity (%)</text>
<line x1="36.5" y1="460.3" x2="36.5" y2="490" stroke="#444" stroke-width="0.8"/>
<line x1="35.4" y1="460.3" x2="36.5" y2="460.3" stroke="#444" stroke-width="0.6"/>
<line x1="35.4" y1="466.7" x2="36.5" y2="466.7" stroke="#444" stroke-width="0.6"/>
<line x1="35.4" y1="472.5" x2="36.5" y2="472.5" stroke="#444" stroke-width="0.6"/>
<line x1="35.4" y1="478.3" x2="36.5" y2="478.3" stroke="#444" stroke-width="0.6"/>
<line x1="35.4" y1="484.1" x2="36.5" y2="484.1" stroke="#444" stroke-width="0.6"/>
<line x1="35.4" y1="490" x2="36.5" y2="490" stroke="#444" stroke-width="0.6"/>
<text x="33.0" y="467.1" font-family="Liberation Sans, sans-serif" font-size="6.8" text-anchor="end" fill="#333">100</text>
<text x="33.0" y="488.1" font-family="Liberation Sans, sans-serif" font-size="6.8" text-anchor="end" fill="#333">0</text>
<path d="M615 295.2 H622.2 V420.2 H615 M622.2 357.6 H628.6" fill="none" stroke="#000" stroke-width="1.6"/>
<text x="638.4" y="361.3" font-family="Liberation Sans, sans-serif" font-size="10.3" text-anchor="start" fill="#111">Hadapsar</text>
<text x="641.4" y="447.0" font-family="Liberation Sans, sans-serif" font-size="10.3" text-anchor="start" fill="#111">Manjari</text>
<text x="641.4" y="480.7" font-family="Liberation Sans, sans-serif" font-size="10.3" text-anchor="start" fill="#e01010">Matrix</text>
</svg>
</body></html>
